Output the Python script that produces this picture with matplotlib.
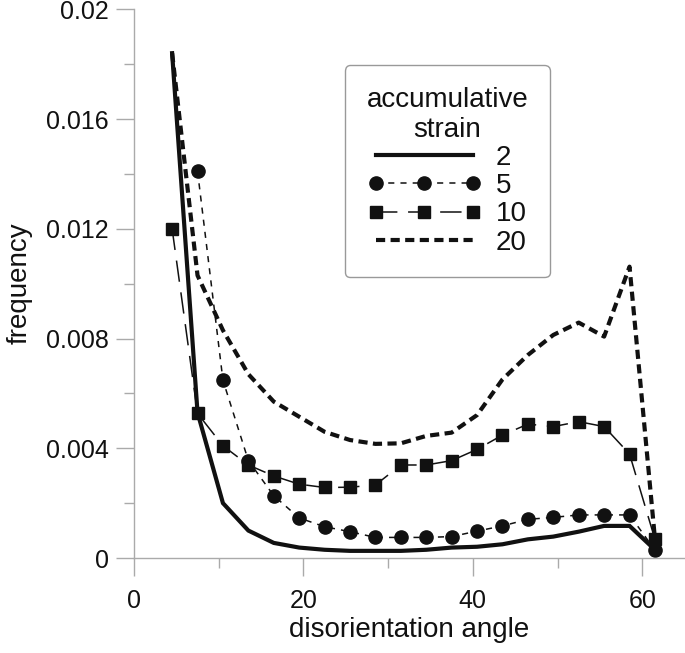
#!/usr/bin/env python3

##
# plot.py
#
# Disorientation angle distribution for several accumulative strains.
##
import matplotlib
matplotlib.use('Agg')
import matplotlib.pyplot as plt
from matplotlib.ticker import MultipleLocator

# Bin centres (degrees)
angles = [4.5, 7.5, 10.5, 13.5, 16.5, 19.5, 22.5, 25.5, 28.5, 31.5,
          34.5, 37.5, 40.5, 43.5, 46.5, 49.5, 52.5, 55.5, 58.5, 61.5]

# Frequencies
strain2 = [0.0184, 0.0053, 0.0020, 0.0010, 0.00055, 0.00038, 0.00030, 0.00026, 0.00026, 0.00026,
           0.00030, 0.00038, 0.00041, 0.00050, 0.00068, 0.00078, 0.00096, 0.00117, 0.00117, 0.00030]
angles5 = angles[1:]
strain5 = [0.0141, 0.00648, 0.00355, 0.00227, 0.00146, 0.00114, 0.00096, 0.00075, 0.00075,
           0.00075, 0.00078, 0.00098, 0.00117, 0.00141, 0.00148, 0.00157, 0.00157, 0.00157, 0.00029]
strain10 = [0.0120, 0.00527, 0.00409, 0.00339, 0.00299, 0.00269, 0.00257, 0.00258, 0.00266, 0.00339,
            0.00339, 0.00355, 0.00396, 0.00448, 0.00488, 0.00479, 0.00497, 0.00479, 0.00379, 0.00068]
strain20 = [0.0184, 0.0103, 0.0083, 0.0067, 0.0057, 0.00515, 0.0046, 0.0043, 0.00416, 0.00418,
            0.00445, 0.00457, 0.00521, 0.00651, 0.0074, 0.00813, 0.00858, 0.00807, 0.01062, 0.0007]

labels = ['2', '5', '10', '20']
y_ticks = [0, 0.004, 0.008, 0.012, 0.016, 0.02]
y_tick_labels = ['0', '0.004', '0.008', '0.012', '0.016', '0.02']
x_ticks = [0, 20, 40, 60]

AXIS_GRAY = '#aaaaaa'
INK = '#111111'


def figure(filename):
    plt.rcParams['font.family'] = ['Liberation Sans', 'DejaVu Sans']
    plt.rcParams['font.size'] = 18

    fig = plt.figure(figsize=(6.85, 6.53), dpi=100)
    W, H = 685, 653
    ax = fig.add_axes([134 / W, 95 / H, 550.6 / W, 548.7 / H])

    # Series
    ax.plot(angles, strain2, color=INK, lw=3.0, solid_joinstyle='miter', label=labels[0])
    ax.plot(angles5, strain5, color=INK, lw=1.1, linestyle=(0, (4, 4)),
            marker='o', markersize=9.5, label=labels[1])
    ax.plot(angles, strain10, color=INK, lw=1.1, linestyle=(0, (14, 7)),
            marker='s', markersize=8, label=labels[2])
    ax.plot(angles, strain20, color=INK, lw=3.0, linestyle=(0, (2.2, 1.3)),
            label=labels[3])

    # Axes formatting
    ax.set_xlim(0, 65)
    ax.set_ylim(0, 0.02)
    ax.set_xticks(x_ticks)
    ax.xaxis.set_minor_locator(MultipleLocator(10))
    ax.set_yticks(y_ticks)
    ax.set_yticklabels(y_tick_labels)
    ax.yaxis.set_minor_locator(MultipleLocator(0.002))
    for side in ['top', 'right']:
        ax.spines[side].set_visible(False)
    for side in ['left', 'bottom']:
        ax.spines[side].set_color(AXIS_GRAY)
        ax.spines[side].set_linewidth(1.0)
    ax.tick_params(which='major', direction='out', length=13, width=1.0, color=AXIS_GRAY,
                   labelcolor=INK, labelsize=18)
    ax.tick_params(axis='x', which='major', pad=9)
    ax.tick_params(axis='y', which='major', pad=5)
    ax.tick_params(which='minor', direction='out', length=7, width=1.0, color=AXIS_GRAY)

    ax.set_xlabel('disorientation angle', color=INK, fontsize=20, labelpad=3)
    ax.set_ylabel('frequency', color=INK, fontsize=20, labelpad=10)

    leg = ax.legend(title='accumulative\nstrain', loc='upper left', bbox_to_anchor=(0.383, 0.8985),
                    borderaxespad=0, fontsize=20, title_fontsize=20, handlelength=4.07,
                    handletextpad=0.54, numpoints=3, labelspacing=0.08, borderpad=0.78,
                    fancybox=True, framealpha=1, edgecolor='#999999')
    leg.get_frame().set_linewidth(1.0)
    leg.get_title().set_multialignment('center')
    leg.get_title().set_color(INK)
    for text in leg.get_texts():
        text.set_color(INK)

    fig.savefig(filename, dpi=100)
    plt.close(fig)


if __name__ == '__main__':
    figure('out.png')
